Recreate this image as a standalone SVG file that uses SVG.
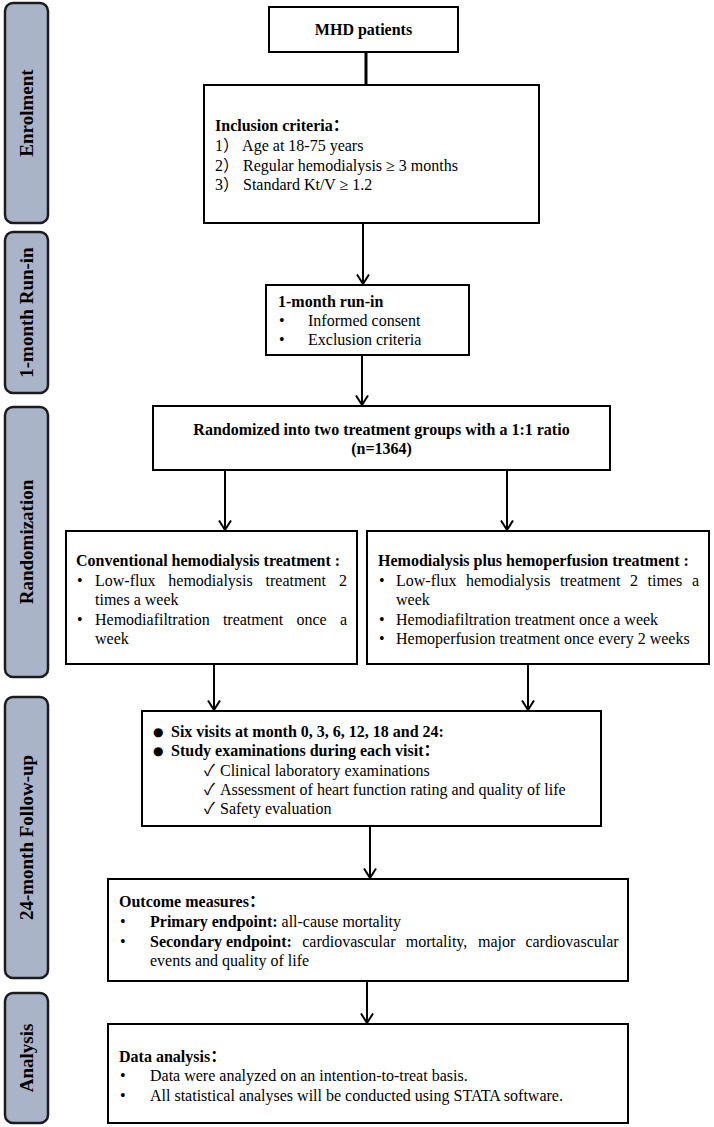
<svg xmlns="http://www.w3.org/2000/svg" width="714" height="1127" viewBox="0 0 714 1127">
<defs>
<style>
.box{fill:#fff;stroke:#000;stroke-width:2}
.bar{fill:#A9B4C8;stroke:#1c1c1c;stroke-width:2.5}
.t{font-family:"Liberation Serif","Noto Sans CJK SC",serif;font-size:16px;fill:#000}
.b{font-weight:bold}
.c{text-anchor:middle}
.lab{font-family:"Liberation Serif",serif;font-size:19px;font-weight:bold;text-anchor:middle;fill:#000}
.dot{font-family:"DejaVu Sans",sans-serif;font-size:12px}
.conn{stroke:#000;stroke-width:2;fill:none}
</style>
<marker id="arr" viewBox="0 0 12 14" refX="10.5" refY="7" markerWidth="12" markerHeight="14" markerUnits="userSpaceOnUse" orient="auto">
<path d="M1,1 L10.5,7 L1,13" fill="none" stroke="#000" stroke-width="2"/>
</marker>
</defs>
<rect width="714" height="1127" fill="#fff"/>

<g id="stage-enrolment">
<rect class="bar" x="5" y="3" width="43" height="220" rx="8"/>
<text class="lab" transform="translate(33,113) rotate(-90)">Enrolment</text>
</g>
<g id="stage-runin">
<rect class="bar" x="5" y="232" width="43" height="161" rx="8"/>
<text class="lab" transform="translate(33,312.5) rotate(-90)">1-month Run-in</text>
</g>
<g id="stage-randomization">
<rect class="bar" x="5" y="407" width="43" height="270" rx="8"/>
<text class="lab" transform="translate(33,542) rotate(-90)">Randomization</text>
</g>
<g id="stage-followup">
<rect class="bar" x="5" y="697" width="43" height="281" rx="8"/>
<text class="lab" transform="translate(33,837.5) rotate(-90)">24-month Follow-up</text>
</g>
<g id="stage-analysis">
<rect class="bar" x="5" y="993" width="43" height="130" rx="8"/>
<text class="lab" transform="translate(33,1058) rotate(-90)">Analysis</text>
</g>

<g id="connectors">
<line x1="366" y1="52" x2="366" y2="85" stroke="#000" stroke-width="3"/>
<line class="conn" x1="363" y1="223" x2="363" y2="284" marker-end="url(#arr)"/>
<line class="conn" x1="362" y1="355" x2="362" y2="405" marker-end="url(#arr)"/>
<line class="conn" x1="225" y1="470" x2="225" y2="530" marker-end="url(#arr)"/>
<line class="conn" x1="507" y1="470" x2="507" y2="530" marker-end="url(#arr)"/>
<line class="conn" x1="214" y1="664" x2="214" y2="710" marker-end="url(#arr)"/>
<line class="conn" x1="528" y1="664" x2="528" y2="710" marker-end="url(#arr)"/>
<line class="conn" x1="370" y1="826" x2="370" y2="878" marker-end="url(#arr)"/>
<line class="conn" x1="367" y1="981" x2="367" y2="1023" marker-end="url(#arr)"/>
</g>

<g id="mhd">
<rect class="box" x="269" y="7" width="189" height="45"/>
<text class="t b c" x="363.5" y="35">MHD patients</text>
</g>

<g id="inclusion">
<rect class="box" x="204" y="85" width="335" height="138"/>
<text class="t b" x="215" y="131">Inclusion criteria：</text>
<text class="t" x="215" y="151">1） Age at 18-75 years</text>
<text class="t" x="215" y="171">2） Regular hemodialysis ≥ 3 months</text>
<text class="t" x="215" y="190">3） Standard Kt/V ≥ 1.2</text>
</g>

<g id="runin">
<rect class="box" x="266" y="285" width="203" height="70"/>
<text class="t b" x="278" y="307">1-month run-in</text>
<text class="t" x="279" y="326">•</text>
<text class="t" x="308" y="326">Informed consent</text>
<text class="t" x="279" y="345">•</text>
<text class="t" x="308" y="345">Exclusion criteria</text>
</g>

<g id="randomized">
<rect class="box" x="153" y="406" width="457" height="64"/>
<text class="t b c" x="381.5" y="435">Randomized into two treatment groups with a 1:1 ratio</text>
<text class="t b c" x="381.5" y="454">(n=1364)</text>
</g>

<g id="conventional">
<rect class="box" x="66" y="531" width="291" height="133"/>
<text class="t b" x="76" y="566">Conventional hemodialysis treatment :</text>
<text class="t" x="77" y="585.5">•</text>
<text class="t" y="585.5"><tspan x="95">Low-flux</tspan><tspan x="168.3">hemodialysis</tspan><tspan x="265.6">treatment</tspan><tspan x="339">2</tspan></text>
<text class="t" x="95" y="605">times a week</text>
<text class="t" x="77" y="624.5">•</text>
<text class="t" y="624.5"><tspan x="95">Hemodiafiltration</tspan><tspan x="222.9">treatment</tspan><tspan x="296.5">once</tspan><tspan x="339.9">a</tspan></text>
<text class="t" x="95" y="644">week</text>
</g>

<g id="hemoperfusion">
<rect class="box" x="367" y="531" width="342" height="133"/>
<text class="t b" x="378" y="566">Hemodialysis plus hemoperfusion treatment  :</text>
<text class="t" x="379" y="585.5">•</text>
<text class="t" y="585.5"><tspan x="396">Low-flux</tspan><tspan x="466">hemodialysis</tspan><tspan x="560">treatment</tspan><tspan x="630">2</tspan><tspan x="647.6">times</tspan><tspan x="691.9">a</tspan></text>
<text class="t" x="396" y="605">week</text>
<text class="t" x="379" y="624.5">•</text>
<text class="t" x="396" y="624.5">Hemodiafiltration treatment once a week</text>
<text class="t" x="379" y="644">•</text>
<text class="t" x="396" y="644">Hemoperfusion treatment once every 2 weeks</text>
</g>

<g id="followup">
<rect class="box" x="142" y="711" width="459" height="115"/>
<text class="t dot" x="153" y="736">●</text>
<text class="t b" x="171" y="737">Six visits at month 0, 3, 6, 12, 18 and 24:</text>
<text class="t dot" x="153" y="755">●</text>
<text class="t b" x="171" y="756">Study examinations during each visit：</text>
<text class="t" x="204" y="776">✓</text>
<text class="t" x="220" y="776">Clinical laboratory examinations</text>
<text class="t" x="204" y="795">✓</text>
<text class="t" x="220" y="795">Assessment of heart function rating and quality of life</text>
<text class="t" x="204" y="814">✓</text>
<text class="t" x="220" y="814">Safety evaluation</text>
</g>

<g id="outcome">
<rect class="box" x="108" y="879" width="520" height="102"/>
<text class="t b" x="119" y="907">Outcome measures：</text>
<text class="t" x="120" y="927">•</text>
<text class="t" x="150" y="927"><tspan class="b">Primary endpoint:</tspan> all-cause mortality</text>
<text class="t" x="120" y="947">•</text>
<text class="t" y="947"><tspan class="b" x="150">Secondary endpoint:</tspan><tspan x="302.2">cardiovascular</tspan><tspan x="405.7">mortality,</tspan><tspan x="478">major</tspan><tspan x="525.4">cardiovascular</tspan></text>
<text class="t" x="150" y="966">events and quality of life</text>
</g>

<g id="analysis">
<rect class="box" x="108" y="1024" width="520" height="99"/>
<text class="t b" x="119" y="1062">Data analysis：</text>
<text class="t" x="120" y="1081">•</text>
<text class="t" x="150" y="1081">Data were analyzed on an intention-to-treat basis.</text>
<text class="t" x="120" y="1101">•</text>
<text class="t" x="150" y="1101">All statistical analyses will be conducted using STATA software.</text>
</g>
</svg>
